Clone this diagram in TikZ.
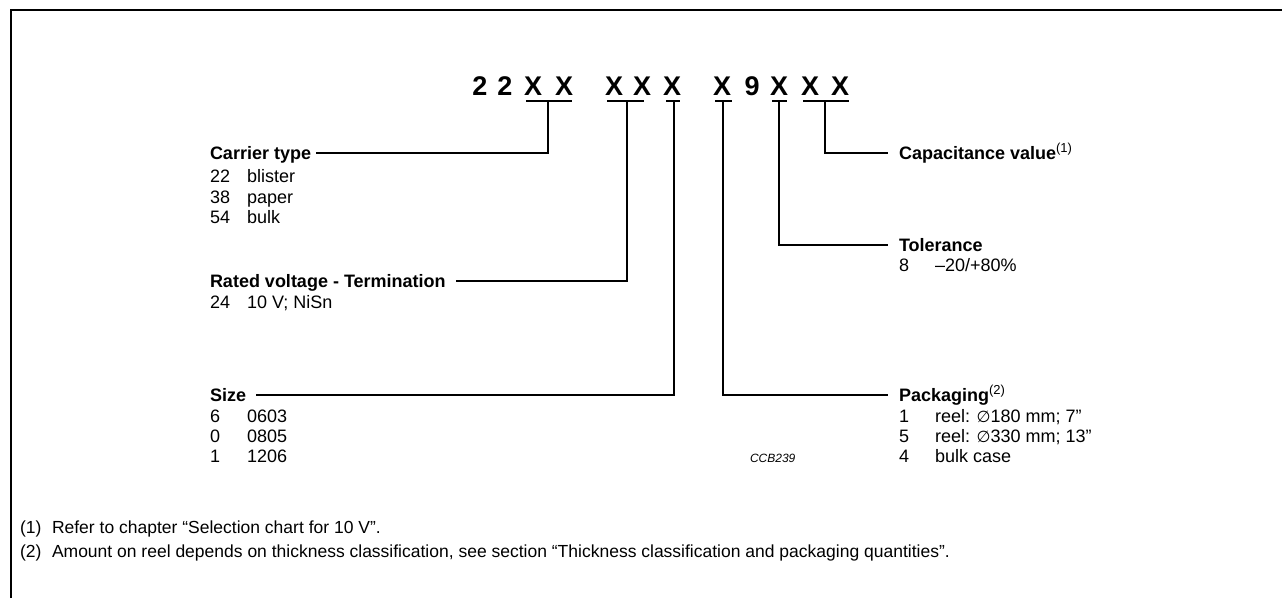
\documentclass[tikz,border=0pt]{standalone}
\usepackage{fontspec}
\setmainfont{Liberation Sans}
\newfontfamily\symfont{DejaVu Sans}
\newcommand{\supnote}[1]{\raisebox{7pt}{\mdseries\fontsize{13}{14}\selectfont(#1)}}
\begin{document}
\begin{tikzpicture}[x=1pt,y=-1pt,
  every node/.style={inner sep=0pt, outer sep=0pt},
  code/.style={font=\fontsize{27}{27}\selectfont\bfseries, anchor=base},
  head/.style={font=\fontsize{18}{20}\selectfont\bfseries, anchor=base west, text height=13pt, text depth=0pt},
  item/.style={font=\fontsize{18}{20}\selectfont, anchor=base west},
  note/.style={font=\fontsize{17.5}{19}\selectfont, anchor=base west},
  tag/.style={font=\fontsize{12}{13}\selectfont\itshape, anchor=base west},
  conn/.style={line width=1.1pt},
  frame/.style={line width=2pt}]
\useasboundingbox (0,0) rectangle (1282,598);
% frame (open at right and bottom)
\draw[frame] (11,598) -- (11,10) -- (1282,10);

% code characters
\node[code] (c1)  at (480,95) {2};
\node[code] (c2)  at (505,95) {2};
\node[code] (c3)  at (533,95) {X};
\node[code] (c4)  at (564,95) {X};
\node[code] (c5)  at (614,95) {X};
\node[code] (c6)  at (642,95) {X};
\node[code] (c7)  at (672,95) {X};
\node[code] (c8)  at (722,95) {X};
\node[code] (c9)  at (752,95) {9};
\node[code] (c10) at (779,95) {X};
\node[code] (c11) at (810,95) {X};
\node[code] (c12) at (840,95) {X};

% underlines
\draw[conn] (526,101) -- (572,101);
\draw[conn] (607,101) -- (644,101);
\draw[conn] (666,101) -- (680,101);
\draw[conn] (715,101) -- (732,101);
\draw[conn] (772,101) -- (787,101);
\draw[conn] (803,101) -- (849,101);
\coordinate (u1) at (548,101);
\coordinate (u2) at (627,101);
\coordinate (u3) at (674,101);
\coordinate (u4) at (723,101);
\coordinate (u5) at (779,101);
\coordinate (u6) at (825,101);

% left headings
\node[head] (carrier) at (210,159.5) {Carrier type};
\node[head] (rated)   at (210,287.5) {Rated voltage - Termination};
\node[head] (size)    at (210,401.5) {Size};
% right headings
\node[head] (cap)  at (899,159.5) {Capacitance value\supnote{1}};
\node[head] (tol)  at (899,251.5) {Tolerance};
\node[head] (pack) at (899,401.5) {Packaging\supnote{2}};

% connectors
\draw[conn] (u1) |- ([xshift=5pt]carrier.east);
\draw[conn] (u2) |- ([xshift=10pt]rated.east);
\draw[conn] (u3) |- ([xshift=10pt]size.east);
\draw[conn] (u4) |- ([xshift=-11pt]pack.west);
\draw[conn] (u5) |- ([xshift=-11pt]tol.west);
\draw[conn] (u6) |- ([xshift=-11pt]cap.west);

% carrier items
\node[item] (ca1n) at (210,182.5) {22};  \node[item] (ca1t) at (247,182.5) {blister};
\node[item] (ca2n) at (210,203.5) {38};  \node[item] (ca2t) at (247,203.5) {paper};
\node[item] (ca3n) at (210,223.5) {54};  \node[item] (ca3t) at (247,223.5) {bulk};
% rated voltage items
\node[item] (rv1n) at (210,308.5) {24};  \node[item] (rv1t) at (247,308.5) {10 V; NiSn};
% size items
\node[item] (sz1n) at (210,422.5) {6};   \node[item] (sz1t) at (247,422.5) {0603};
\node[item] (sz2n) at (210,442.5) {0};   \node[item] (sz2t) at (247,442.5) {0805};
\node[item] (sz3n) at (210,462.5) {1};   \node[item] (sz3t) at (247,462.5) {1206};
% tolerance items
\node[item] (to1n) at (899,271.5) {8};   \node[item] (to1t) at (935,271.5) {–20/+80\%};
% packaging items
\node[item] (pk1n) at (899,422.5) {1};   \node[item] (pk1t) at (935,422.5) {reel: {\symfont\fontsize{16}{18}\selectfont ∅}180 mm; 7"};
\node[item] (pk2n) at (899,442.5) {5};   \node[item] (pk2t) at (935,442.5) {reel: {\symfont\fontsize{16}{18}\selectfont ∅}330 mm; 13"};
\node[item] (pk3n) at (899,462.5) {4};   \node[item] (pk3t) at (935,462.5) {bulk case};

% figure tag
\node[tag] (ccb) at (750,462) {CCB239};

% footnotes
\node[note] (f1n) at (20,533) {(1)};
\node[note] (f1t) at (52,533) {Refer to chapter “Selection chart for 10 V”.};
\node[note] (f2n) at (20,557) {(2)};
\node[note] (f2t) at (52,557) {Amount on reel depends on thickness classification, see section “Thickness classification and packaging quantities”.};
\end{tikzpicture}
\end{document}
